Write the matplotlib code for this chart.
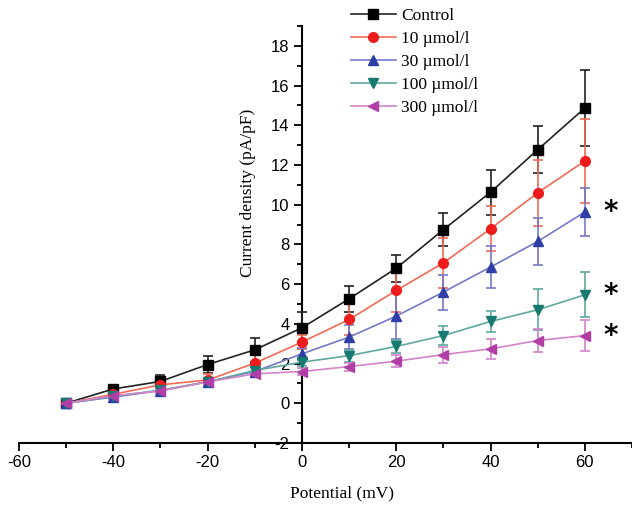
import matplotlib
matplotlib.use('Agg')
import matplotlib.pyplot as plt
from matplotlib.ticker import MultipleLocator

# data
potential = [-50, -40, -30, -20, -10, 0, 10, 20, 30, 40, 50, 60]

control = [0, 0.72, 1.1, 1.95, 2.69, 3.8, 5.26, 6.8, 8.74, 10.63, 12.77, 14.87]
control_err = [0.05, 0.1, 0.3, 0.45, 0.6, 0.8, 0.67, 0.69, 0.84, 1.13, 1.19, 1.89]

c10 = [0, 0.45, 0.93, 1.17, 2.02, 3.08, 4.22, 5.68, 7.07, 8.79, 10.6, 12.2]
c10_err = [0.05, 0.1, 0.15, 0.3, 0.4, 0.35, 0.8, 1.1, 1.26, 1.14, 1.66, 2.1]

c30 = [0, 0.31, 0.64, 1.08, 1.6, 2.49, 3.33, 4.39, 5.6, 6.86, 8.15, 9.63]
c30_err = [0.05, 0.1, 0.1, 0.2, 0.25, 0.3, 0.6, 1.15, 0.88, 1.04, 1.17, 1.2]

c100 = [0, 0.35, 0.66, 1.08, 1.65, 2.07, 2.4, 2.86, 3.41, 4.12, 4.71, 5.46]
c100_err = [0.05, 0.08, 0.1, 0.15, 0.2, 0.2, 0.3, 0.35, 0.47, 0.55, 1.02, 1.14]

c300 = [0, 0.38, 0.62, 1.08, 1.48, 1.6, 1.85, 2.12, 2.45, 2.74, 3.16, 3.41]
c300_err = [0.05, 0.08, 0.1, 0.15, 0.15, 0.2, 0.2, 0.3, 0.4, 0.5, 0.6, 0.8]

labels = ['Control', '10 µmol/l', '30 µmol/l', '100 µmol/l', '300 µmol/l']
star_y = [9.63, 5.46, 3.41]

series = [control, c10, c30, c100, c300]
errors = [control_err, c10_err, c30_err, c100_err, c300_err]
markers = ['s', 'o', '^', 'v', '<']
marker_colors = ['#000000', '#ee1c1c', '#2e3ea6', '#177a70', '#b03ea6']
line_colors = ['#222222', '#f26a55', '#7479c6', '#5fa8a0', '#d184c8']

plt.rcParams['font.family'] = ['Liberation Sans', 'DejaVu Sans']
plt.rcParams['axes.unicode_minus'] = False

fig = plt.figure(figsize=(6.32, 5.05), dpi=100)
ax = fig.add_axes([0.030, 0.1228, 0.970, 0.8257])

lines = []
for y, e, m, mc, lc, lab in zip(series, errors, markers, marker_colors, line_colors, labels):
    cont = ax.errorbar(potential, y, yerr=e, fmt='-', marker=m, color=lc, ecolor=lc,
                       mfc=mc, mec=mc, ms=7, lw=1.2, elinewidth=1.2, capsize=3.5,
                       capthick=1.2, label=lab, zorder=3)
    lines.append(cont.lines[0])

for sy in star_y:
    ax.text(65.5, sy, '*', fontsize=20, fontweight='bold', ha='center',
            va='center', family='DejaVu Sans')

ax.set_xlim(-60, 70)
ax.set_ylim(-2, 19)
ax.spines['top'].set_visible(False)
ax.spines['right'].set_visible(False)
ax.spines['left'].set_position(('data', 0))
ax.spines['left'].set_linewidth(1.5)
ax.spines['bottom'].set_linewidth(1.5)

ax.xaxis.set_major_locator(MultipleLocator(20))
ax.xaxis.set_minor_locator(MultipleLocator(10))
ax.yaxis.set_major_locator(MultipleLocator(2))
ax.yaxis.set_minor_locator(MultipleLocator(1))
ax.tick_params(which='major', direction='out', length=6, width=1.3, labelsize=12, pad=3)
ax.tick_params(which='minor', direction='out', length=3.5, width=1.3)
ax.set_xticks([-60, -40, -20, 0, 20, 40, 60])
ax.set_yticks(range(-2, 19, 2))

ax.set_xlabel('Potential (mV)', family='Liberation Serif', fontsize=12.5)
ax.set_ylabel('Current density (pA/pF)', family='Liberation Serif', fontsize=12.5)
ax.xaxis.set_label_coords(0.527, -0.12)
ax.yaxis.set_label_coords(0.374, 0.6)
ax.xaxis.label.set_va('center')
ax.yaxis.label.set_va('center')

ax.legend(handles=lines, labels=labels, loc='upper left', bbox_to_anchor=(0.53, 1.06),
          frameon=False, prop={'family': 'Liberation Serif', 'size': 12.5},
          handlelength=2.6, labelspacing=0.4, handletextpad=0.3, borderaxespad=0)

fig.savefig('out.png', dpi=100)
